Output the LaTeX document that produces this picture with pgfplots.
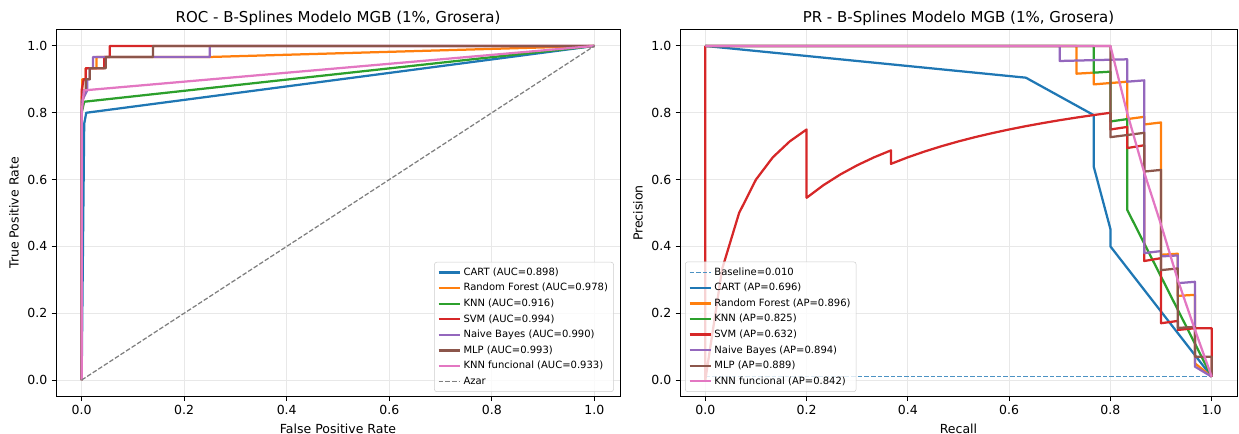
\documentclass[border=0pt]{standalone}
\usepackage{fontspec}
\setmainfont{DejaVu Sans}
\usepackage{pgfplots}
\pgfplotsset{compat=1.18}
\definecolor{c0}{HTML}{1F77B4}
\definecolor{c1}{HTML}{FF7F0E}
\definecolor{c2}{HTML}{2CA02C}
\definecolor{c3}{HTML}{D62728}
\definecolor{c4}{HTML}{9467BD}
\definecolor{c5}{HTML}{8C564B}
\definecolor{c6}{HTML}{E377C2}
\definecolor{c7}{HTML}{7F7F7F}
\pgfplotsset{
  myax/.style={
    scale only axis,
    xmin=-0.05, xmax=1.05, ymin=-0.05, ymax=1.05,
    xtick={0,0.2,0.4,0.6,0.8,1}, ytick={0,0.2,0.4,0.6,0.8,1},
    xticklabels={0.0,0.2,0.4,0.6,0.8,1.0},
    yticklabels={0.0,0.2,0.4,0.6,0.8,1.0},
    tick align=outside, tick pos=left,
    major tick length=3.5pt,
    tick style={black, line width=0.8pt},
    axis line style={black, line width=0.8pt},
    grid=major, grid style={line width=0.8pt, color=black!9},
    ticklabel style={font=\fontsize{10}{12}\selectfont},
    label style={font=\fontsize{10}{12}\selectfont},
    title style={font=\fontsize{12}{14}\selectfont, yshift=-6.5pt},
    legend cell align=left,
    legend image code/.code={\draw[##1] (0pt,0pt) -- (17pt,0pt);},
    legend style={font=\fontsize{8}{9.6}\selectfont, draw=black!20, rounded corners=2pt,
      fill=white, fill opacity=0.8, text opacity=1, inner sep=2.5pt, row sep=0.9pt},
    every axis plot/.append style={line width=1.8pt, line join=round},
  }
}
\begin{document}
\begin{tikzpicture}
\useasboundingbox (0,0) rectangle (991.2pt,347.2pt);
% ROC
\begin{axis}[myax, at={(44.8pt,29.8pt)}, anchor=south west, width=451.2pt, height=294pt,
  title={ROC - B-Splines Modelo MGB (1\%, Grosera)},
  xlabel={False Positive Rate}, ylabel={True Positive Rate},
  legend style={at={(0.989,0.013)}, anchor=south east}]
\addplot[c0] coordinates {(0,0) (0.005,0.767) (0.009,0.8) (1,1)};
\addlegendentry{CART (AUC=0.898)}
\addplot[c1] coordinates {(0,0) (0,0.833) (0.001,0.867) (0.001,0.9) (0.008,0.9) (0.008,0.933) (0.029,0.933) (0.029,0.967) (0.25,0.967) (1,1)};
\addlegendentry{Random Forest (AUC=0.978)}
\addplot[c2] coordinates {(0,0) (0,0.8) (0.005,0.833) (1,1)};
\addlegendentry{KNN (AUC=0.916)}
\addplot[c3] coordinates {(0,0) (0,0.367) (0,0.867) (0.004,0.9) (0.008,0.9) (0.008,0.933) (0.044,0.933) (0.044,0.967) (0.055,0.967) (0.055,1) (1,1)};
\addlegendentry{SVM (AUC=0.994)}
\addplot[c4] coordinates {(0,0) (0,0.833) (0.011,0.867) (0.011,0.9) (0.016,0.9) (0.016,0.933) (0.022,0.933) (0.022,0.967) (0.25,0.967) (0.25,1) (1,1)};
\addlegendentry{Naive Bayes (AUC=0.990)}
\addplot[c5] coordinates {(0,0) (0,0.8) (0.004,0.867) (0.008,0.867) (0.008,0.9) (0.016,0.9) (0.016,0.933) (0.047,0.933) (0.047,0.967) (0.139,0.967) (0.139,1) (1,1)};
\addlegendentry{MLP (AUC=0.993)}
\addplot[c6] coordinates {(0,0) (0,0.8) (0.0045,0.867) (1,1)};
\addlegendentry{KNN funcional (AUC=0.933)}
\addplot[c7, line width=1pt, dash pattern=on 3.7pt off 1.6pt] coordinates {(0,0) (1,1)};
\addlegendentry{Azar}
\end{axis}
% PR
\begin{axis}[myax, at={(544pt,29.8pt)}, anchor=south west, width=445.6pt, height=294pt,
  title={PR - B-Splines Modelo MGB (1\%, Grosera)},
  xlabel={Recall}, ylabel={Precision},
  legend style={at={(0.009,0.013)}, anchor=south west}]
\addplot[c0!80, line width=1pt, dash pattern=on 3.7pt off 1.6pt] coordinates {(0,0.01) (1,0.01)};
\addlegendentry{Baseline=0.010}
\addplot[c0] coordinates {(0,1) (0.633,0.905) (0.767,0.793) (0.767,0.639) (0.8,0.452) (0.8,0.4) (1,0.01)};
\addlegendentry{CART (AP=0.696)}
\addplot[c1] coordinates {(0,1) (0.733,1) (0.733,0.917) (0.767,0.92) (0.767,0.885) (0.8,0.889) (0.833,0.893) (0.833,0.781) (0.867,0.788) (0.867,0.765) (0.9,0.771) (0.9,0.375) (0.933,0.378) (0.933,0.252) (0.967,0.255) (0.967,0.05) (1,0.01)};
\addlegendentry{Random Forest (AP=0.896)}
\addplot[c2] coordinates {(0,1) (0.767,1) (0.767,0.92) (0.8,0.923) (0.8,0.774) (0.833,0.781) (0.833,0.51) (1,0.01)};
\addlegendentry{KNN (AP=0.825)}
\addplot[c3] coordinates {(0,1) (0,0) (0.0333,0.333) (0.0667,0.5) (0.1,0.6) (0.1333,0.6667) (0.1667,0.7143) (0.2,0.75) (0.2,0.5455) (0.2333,0.5833) (0.2667,0.6154) (0.3,0.6429) (0.3333,0.6667) (0.3667,0.6875) (0.3667,0.6471) (0.4,0.6667) (0.4333,0.6842) (0.4667,0.7) (0.5,0.7143) (0.5333,0.7273) (0.5667,0.7391) (0.6,0.75) (0.6333,0.76) (0.6667,0.7692) (0.7,0.7778) (0.7333,0.7857) (0.7667,0.7931) (0.8,0.8) (0.8,0.75) (0.8333,0.7576) (0.8333,0.6944) (0.8667,0.7027) (0.8667,0.3562) (0.9,0.3649) (0.9,0.17) (0.9333,0.177) (0.9333,0.15) (0.9667,0.155) (1,0.155) (1,0.01)};
\addlegendentry{SVM (AP=0.632)}
\addplot[c4] coordinates {(0,1) (0.7,1) (0.7,0.955) (0.833,0.96) (0.833,0.893) (0.867,0.897) (0.867,0.38) (0.9,0.386) (0.9,0.37) (0.933,0.373) (0.933,0.29) (0.967,0.294) (0.967,0.04) (1,0.01)};
\addlegendentry{Naive Bayes (AP=0.894)}
\addplot[c5] coordinates {(0,1) (0.8,1) (0.8,0.727) (0.867,0.74) (0.867,0.624) (0.9,0.629) (0.9,0.329) (0.933,0.334) (0.933,0.156) (0.967,0.159) (0.967,0.07) (1,0.07) (1,0.01)};
\addlegendentry{MLP (AP=0.889)}
\addplot[c6] coordinates {(0,1) (0.8,1) (0.833,0.8) (0.867,0.62) (0.9,0.465) (0.933,0.3) (0.967,0.15) (1,0.01)};
\addlegendentry{KNN funcional (AP=0.842)}
\end{axis}
\end{tikzpicture}
\end{document}
